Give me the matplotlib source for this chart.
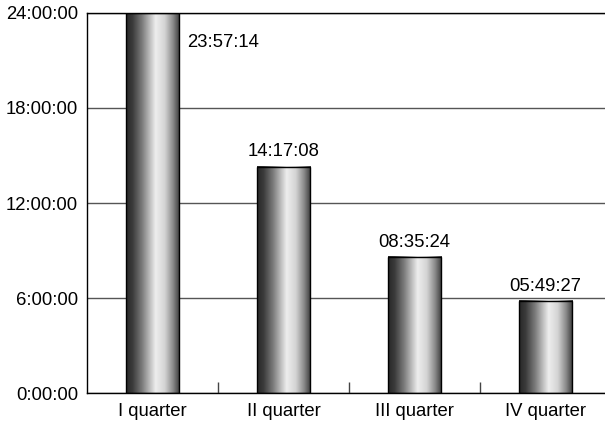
import matplotlib
matplotlib.use("Agg")
import matplotlib.pyplot as plt
import numpy as np
from matplotlib.colors import LinearSegmentedColormap
from matplotlib.ticker import FixedLocator

quarters = ["I quarter", "II quarter", "III quarter", "IV quarter"]
durations = ["23:57:14", "14:17:08", "08:35:24", "05:49:27"]
tick_hours = [0, 6, 12, 18, 24]


def to_hours(s):
    h, m, sec = (int(p) for p in s.split(":"))
    return h + m / 60 + sec / 3600


hours = [to_hours(d) for d in durations]

plt.rcParams["font.family"] = ["Liberation Sans", "DejaVu Sans"]
plt.rcParams["font.size"] = 13.3

fig = plt.figure(figsize=(6.05, 4.23), dpi=100)
ax = fig.add_axes([87 / 605, 1 - 393.3 / 423, 518 / 605, (393.3 - 12.7) / 423])

xs = np.arange(len(quarters))
bars = ax.bar(xs, hours, width=0.405, facecolor="none", edgecolor="black",
              linewidth=1, zorder=3)

# cylinder shading
shade = LinearSegmentedColormap.from_list("cyl", [
    (0.0, "#282828"), (0.12, "#3a3a3a"), (0.3, "#7c7c7c"), (0.55, "#eeeeee"),
    (0.72, "#d4d4d4"), (0.88, "#878787"), (1.0, "#383838")])
grad = np.linspace(0, 1, 256).reshape(1, -1)
for b in bars:
    x0, y0 = b.get_x(), b.get_y()
    ax.imshow(grad, cmap=shade, aspect="auto", interpolation="bilinear", zorder=2,
              extent=[x0, x0 + b.get_width(), y0, y0 + b.get_height()])

# value labels
for i, b in enumerate(bars):
    if i == 0:
        ax.annotate(durations[i], (b.get_x() + b.get_width(), b.get_height()),
                    xytext=(6, -24), textcoords="offset points",
                    ha="left", va="baseline")
    else:
        ax.annotate(durations[i], (b.get_x() + b.get_width() / 2, b.get_height()),
                    xytext=(0, 7.5), textcoords="offset points",
                    ha="center", va="baseline")

ax.set_xlim(-0.5, 3.454)
ax.set_ylim(0, 24)

ax.set_yticks(tick_hours)
ax.set_yticklabels([f"{h}:00:00" for h in tick_hours])
ax.tick_params(axis="y", length=0, pad=6.5)

ax.set_xticks(xs)
ax.set_xticklabels(quarters)
ax.xaxis.set_minor_locator(FixedLocator([0.5, 1.5, 2.5]))
ax.tick_params(axis="x", which="major", length=0, pad=7)
ax.tick_params(axis="x", which="minor", direction="in", length=7.8, width=1,
               color="#444444")

ax.yaxis.grid(True, color="#555555", linewidth=1)
ax.set_axisbelow(True)

ax.spines["right"].set_visible(False)
for s in ["left", "bottom", "top"]:
    ax.spines[s].set_color("black")
    ax.spines[s].set_linewidth(1)

fig.savefig("out.png", dpi=100)
